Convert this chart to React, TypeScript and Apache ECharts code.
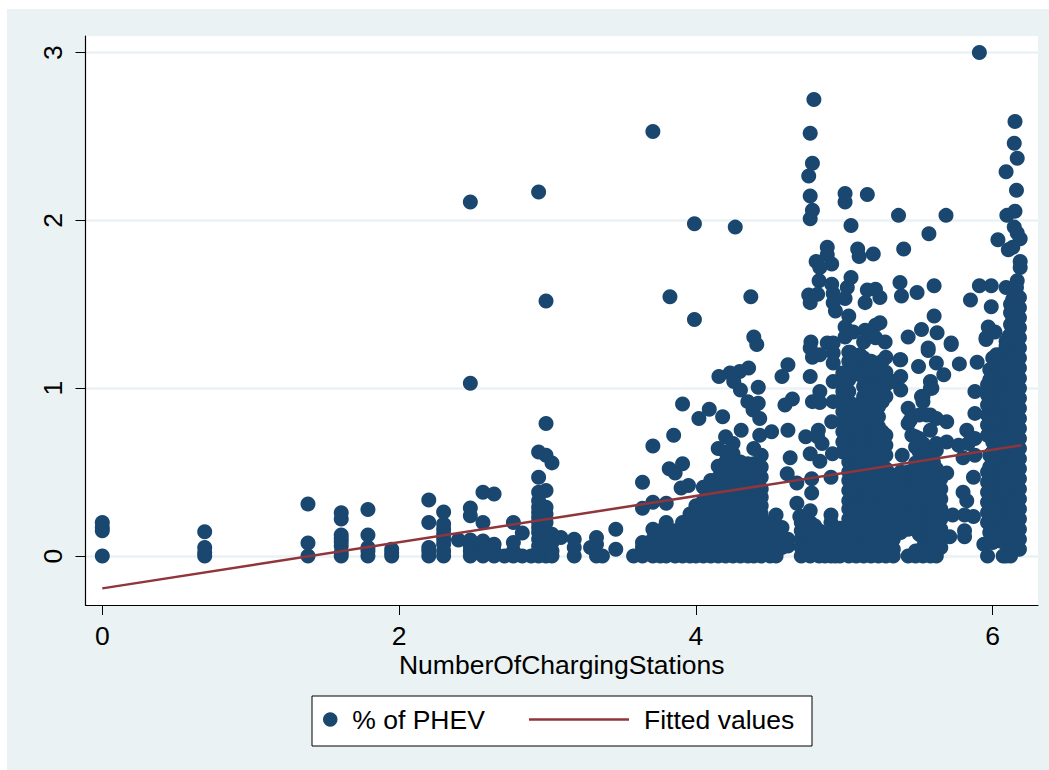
import React, { useEffect, useRef } from "react";
import * as echarts from "echarts";

const xTicks = [0, 2, 4, 6];
const yTicks = [0, 1, 2, 3];
const xName = "NumberOfChargingStations";
const scatterName = "% of PHEV";
const lineName = "Fitted values";

// fitted line end points (x, y)
const fittedValues = [[0, -0.193], [6.195, 0.66]];

// low-count columns: [x, ys]
const leftColumns: [number, number[]][] = [
  [0, [0, 0.15, 0.17, 0.2]],
  [0.69, [0, 0.02, 0.05, 0.145]],
  [1.386, [0, 0.077, 0.31]],
  [1.61, [0, 0.02, 0.06, 0.085, 0.105, 0.125, 0.22, 0.258]],
  [1.79, [0, 0.03, 0.05, 0.125, 0.277]],
  [1.95, [0, 0.02, 0.04]],
  [2.2, [0, 0.03, 0.05, 0.2, 0.334]],
  [2.3, [0, 0.03, 0.07, 0.1, 0.13, 0.16, 0.19, 0.262]],
  [2.4, [0.095]],
  [2.48, [0, 0.03, 0.06, 0.095, 0.24, 0.286, 1.03, 2.11]],
  [2.565, [0, 0.03, 0.06, 0.09, 0.2, 0.38]],
  [2.64, [0, 0.03, 0.07, 0.37]],
  [2.71, [0]],
  [2.77, [0, 0.03, 0.08, 0.2]],
  [2.83, [0, 0.137]],
  [2.89, [0]],
  [2.94, [0, 0.03, 0.06, 0.1, 0.14, 0.17, 0.2, 0.23, 0.26, 0.29, 0.33, 0.38, 0.47, 0.62, 2.17]],
  [2.97, [0.04, 0.09, 0.13, 0.18, 0.22, 0.27]],
  [2.99, [0, 0.05, 0.1, 0.15, 0.2, 0.25, 0.29, 0.39, 0.6, 0.79, 1.52]],
  [3.03, [0, 0.03, 0.08, 0.13, 0.555]],
  [3.09, [0.11]],
  [3.18, [0, 0.05, 0.1]],
  [3.29, [0.05]],
  [3.33, [0, 0.07, 0.11]],
  [3.37, [0]],
  [3.46, [0.04, 0.16]],
  [3.58, [0]],
  [3.64, [0, 0.05, 0.08, 0.285, 0.44]],
];

// dense lower-middle columns
const middleColumns: [number, number[]][] = [
  [3.71, [0, 0.05, 0.1, 0.16, 0.32, 0.655, 2.53]],
  [3.76, [0, 0.05, 0.1, 0.15]],
  [3.8, [0, 0.05, 0.1, 0.15, 0.2, 0.315]],
  [3.86, [0, 0.05, 0.1, 0.15]],
  [3.91, [0, 0.05, 0.1, 0.15, 0.2]],
  [3.96, [0, 0.05, 0.1, 0.15, 0.2, 0.25]],
  [4.0, [0, 0.05, 0.1, 0.15, 0.2, 0.25, 0.3]],
  [4.05, [0, 0.05, 0.1, 0.15, 0.2, 0.28, 0.33, 0.41]],
  [4.1, [0, 0.05, 0.1, 0.15, 0.2, 0.25, 0.3, 0.35, 0.4, 0.45]],
  [4.15, [0, 0.05, 0.1, 0.15, 0.2, 0.25, 0.3, 0.35, 0.4, 0.465, 0.535, 0.64]],
  [4.2, [0, 0.05, 0.1, 0.15, 0.2, 0.25, 0.3, 0.35, 0.4, 0.45, 0.5, 0.56, 0.62, 0.71]],
  [4.25, [0, 0.05, 0.1, 0.15, 0.2, 0.25, 0.3, 0.35, 0.4, 0.45, 0.5, 0.55, 0.61, 0.67]],
  [4.3, [0, 0.05, 0.1, 0.15, 0.2, 0.25, 0.3, 0.35, 0.4, 0.45, 0.5, 0.56]],
  [4.35, [0, 0.05, 0.1, 0.15, 0.2, 0.25, 0.3, 0.35, 0.4, 0.45, 0.5, 0.55]],
  [4.39, [0, 0.05, 0.1, 0.15, 0.2, 0.25, 0.3, 0.35, 0.4, 0.45, 0.5, 0.55, 0.64]],
  [4.44, [0, 0.05, 0.1, 0.15, 0.2, 0.25, 0.3, 0.35, 0.4, 0.47, 0.53, 0.6]],
  [4.5, [0, 0.05, 0.1, 0.15, 0.2]],
  [4.54, [0, 0.04, 0.09, 0.14, 0.245]],
  [4.58, [0.05, 0.1, 0.17]],
  [4.62, [0.06, 0.1]],
  [4.71, [0, 0.05, 0.1, 0.15, 0.2, 0.235]],
  [4.74, [0.03, 0.08, 0.13, 0.18]],
  [4.77, [0, 0.05, 0.1, 0.15, 0.2, 0.27]],
  [4.8, [0.03, 0.08, 0.13, 0.18]],
  [4.83, [0, 0.05, 0.1, 0.15]],
  [4.87, [0, 0.03, 0.08, 0.13]],
  [4.91, [0, 0.05, 0.1, 0.15, 0.2, 0.245]],
  [4.94, [0, 0.04, 0.09]],
  [4.97, [0, 0.05, 0.1, 0.165]],
];

// main block around x = 5.0 to 5.3
const blockColumns: [number, number[]][] = [
  [4.99, [0.62, 0.68, 0.74, 0.8, 0.86, 0.92, 0.98, 1.04, 1.09]],
  [5.03, [0, 0.04, 0.1, 0.16, 0.22, 0.28, 0.33, 0.39, 0.45, 0.5, 0.56, 0.62, 0.68, 0.74, 0.8, 0.86, 0.92, 0.98, 1.05, 1.11, 1.16, 1.215]],
  [5.055, [0.07, 0.13, 0.19, 0.25, 0.31, 0.37, 0.43, 0.49, 0.59, 0.65, 0.71, 0.77, 0.83, 1.1, 1.15]],
  [5.08, [0, 0.05, 0.11, 0.17, 0.23, 0.29, 0.35, 0.4, 0.46, 0.52, 0.6, 0.66, 0.72, 0.78, 0.84, 0.9, 1.12, 1.17]],
  [5.105, [0.08, 0.14, 0.2, 0.26, 0.32, 0.38, 0.44, 0.5, 0.56, 0.62, 0.68, 0.74, 0.8, 0.86, 1.08, 1.14, 1.2]],
  [5.13, [0, 0.05, 0.11, 0.17, 0.23, 0.29, 0.35, 0.41, 0.47, 0.53, 0.59, 0.65, 0.71, 0.77, 0.83, 0.89, 0.95, 1.01, 1.07, 1.13, 1.18]],
  [5.155, [0.08, 0.14, 0.2, 0.26, 0.32, 0.38, 0.44, 0.5, 0.56, 0.62, 0.68, 0.74, 0.8, 0.86, 0.92, 0.98, 1.04, 1.1, 1.16]],
  [5.18, [0, 0.04, 0.1, 0.16, 0.22, 0.28, 0.34, 0.4, 0.46, 0.52, 0.58, 0.64, 0.7, 0.76, 0.82, 0.88, 0.94, 1.0, 1.06, 1.12, 1.16]],
  [5.205, [0.07, 0.13, 0.19, 0.25, 0.31, 0.37, 0.43, 0.49, 0.55, 0.61, 0.67, 0.73, 0.79, 0.85, 0.91, 0.97, 1.03, 1.09, 1.15]],
  [5.23, [0, 0.05, 0.11, 0.17, 0.23, 0.29, 0.35, 0.41, 0.47, 0.53, 0.59, 0.65, 0.71, 0.77, 0.83, 0.89, 0.95, 1.01, 1.07, 1.13]],
  [5.255, [0.08, 0.14, 0.2, 0.26, 0.32, 0.38, 0.44, 0.5, 0.62, 0.68, 0.74, 0.92, 1.0, 1.1, 1.16]],
  [5.28, [0, 0.04, 0.1, 0.16, 0.22, 0.28, 0.34, 0.4, 0.46, 0.52, 0.6, 0.66, 0.72, 0.95, 1.02, 1.095, 1.185]],
  [5.305, [0.07, 0.13, 0.19, 0.25, 0.31, 0.37, 0.43, 0.49]],
  [5.33, [0, 0.04, 0.1, 0.16, 0.22, 0.28, 0.34, 0.4, 0.46, 1.04]],
  [5.38, [0.14, 0.2, 0.26, 0.32, 0.38, 0.44, 0.5, 0.99, 1.07, 1.17]],
  [5.405, [0.17, 0.23, 0.29, 0.35, 0.41, 0.47]],
  [5.43, [0, 0.16, 0.21, 0.27, 0.33, 0.39, 0.45, 0.5, 0.79, 0.88]],
  [5.455, [0.19, 0.25, 0.31, 0.37, 0.43, 0.49, 0.72]],
  [5.48, [0, 0.03, 0.16, 0.22, 0.28, 0.34, 0.4, 0.46, 0.52, 0.555, 0.65, 0.71]],
  [5.505, [0.13, 0.19, 0.25, 0.31, 0.37, 0.43, 0.49, 0.62, 0.7, 0.84]],
  [5.53, [0, 0.05, 0.11, 0.16, 0.22, 0.28, 0.34, 0.4, 0.46, 0.52, 0.6, 0.67, 0.92, 0.95]],
  [5.555, [0.08, 0.14, 0.2, 0.26, 0.32, 0.38, 0.44, 0.5, 0.56, 0.63, 0.84]],
  [5.58, [0, 0.05, 0.11, 0.17, 0.23, 0.29, 0.35, 0.41, 0.47, 0.53, 0.59, 0.63, 0.75, 0.84, 1.0, 1.04]],
  [5.6, [0.08, 0.14, 0.2, 0.26, 0.32, 0.38, 0.44, 0.5, 0.56]],
  [5.62, [0, 0.05, 0.1, 0.16, 0.22, 0.28, 0.34, 0.4, 0.46, 0.52, 0.63, 0.67, 0.82]],
  [5.65, [0.05, 0.1, 0.16, 0.22, 0.28, 0.34, 0.4, 0.46]],
  [5.69, [0.495, 0.68, 0.8]],
  [5.73, [0.245]],
  [5.71, [0.115]],
  [5.77, [0.66]],
  [5.81, [0.115, 0.15, 0.245]],
  [5.8, [0.38, 0.585]],
  [5.825, [0.33, 0.75]],
  [5.835, [0.67]],
  [5.87, [0.235, 0.47]],
  [5.88, [0.6, 0.7, 0.85, 0.98]],
];

// right-hand block
const rightColumns: [number, number[]][] = [
  [5.94, [0.07]],
  [5.965, [0, 0.2, 0.26, 0.32, 0.38, 0.44, 0.5, 0.72, 0.78, 0.84, 0.9, 0.96, 1.02]],
  [5.98, [0.14, 0.23, 0.29, 0.35, 0.41, 0.47, 0.53, 0.6, 0.75, 0.81, 0.87, 0.93, 0.99, 1.05, 1.11]],
  [6.0, [0.08, 0.14, 0.2, 0.26, 0.32, 0.38, 0.44, 0.5, 0.56, 0.62, 0.68, 0.76, 0.82, 0.88, 0.94, 1.0, 1.06, 1.12, 1.18]],
  [6.025, [0.11, 0.17, 0.23, 0.29, 0.35, 0.41, 0.47, 0.53, 0.59, 0.65, 0.71, 0.78, 0.84, 0.9, 0.96, 1.02, 1.08, 1.14, 1.2]],
  [6.05, [0.09, 0.15, 0.21, 0.27, 0.33, 0.39, 0.45, 0.51, 0.57, 0.63, 0.69, 0.75, 0.81, 0.87, 0.93, 0.99, 1.05, 1.11, 1.17, 1.2]],
  [6.07, [0, 0.12, 0.18, 0.24, 0.3, 0.36, 0.42, 0.48, 0.54, 0.6, 0.66, 0.72, 0.78, 0.84, 0.9, 0.96, 1.02, 1.08, 1.14, 1.2]],
  [6.09, [0, 0.07, 0.13, 0.19, 0.25, 0.31, 0.37, 0.43, 0.49, 0.55, 0.61, 0.67, 0.73, 0.79, 0.85, 0.91, 0.97, 1.03, 1.09, 1.15, 1.21, 1.25]],
  [6.12, [0, 0.06, 0.12, 0.18, 0.24, 0.3, 0.36, 0.42, 0.48, 0.54, 0.6, 0.66, 0.72, 0.78, 0.84, 0.9, 0.96, 1.02, 1.08, 1.14, 1.2, 1.26, 1.32, 1.38, 1.45]],
  [6.135, [0.09, 0.15, 0.21, 0.27, 0.33, 0.39, 0.45, 0.51, 0.57, 0.63, 0.69, 0.75, 0.81, 0.87, 0.93, 0.99, 1.05, 1.11, 1.17, 1.23, 1.29, 1.35, 1.41, 1.47, 1.53]],
  [6.15, [0.05, 0.11, 0.17, 0.23, 0.29, 0.35, 0.41, 0.47, 0.53, 0.59, 0.65, 0.71, 0.77, 0.83, 0.89, 0.95, 1.01, 1.07, 1.13, 1.19, 1.25, 1.31, 1.37, 1.43, 1.49, 1.55]],
  [6.18, [0.04, 0.1, 0.16, 0.22, 0.28, 0.34, 0.4, 0.46, 0.52, 0.58, 0.64, 0.7, 0.76, 0.82, 0.88, 0.94, 1.0, 1.06, 1.12, 1.18, 1.24, 1.3, 1.36, 1.42, 1.48, 1.54]],
];

// isolated points: [x, y]
const scatteredPoints: [number, number][] = [
  [3.91, 0.906], [3.85, 0.72], [3.82, 0.52], [3.86, 0.495], [3.91, 0.55], [3.9, 0.405], [3.95, 0.42],
  [4.02, 0.82], [4.09, 0.875], [4.18, 0.83], [4.155, 1.07], [4.23, 1.09], [4.295, 1.1], [4.355, 1.12],
  [4.255, 1.04], [4.3, 0.99], [4.41, 1.26], [4.39, 1.305], [4.42, 1.005], [4.35, 0.92], [4.42, 0.91],
  [4.385, 0.87], [4.43, 0.82], [4.305, 0.75], [4.43, 0.72], [4.51, 0.74], [4.62, 1.14], [4.58, 1.07],
  [4.77, 1.07], [4.6, 0.9], [4.65, 0.935], [4.62, 0.75], [4.74, 0.71], [4.635, 0.585], [4.615, 0.49],
  [4.68, 0.435], [4.77, 0.61], [4.835, 0.565], [4.85, 0.67], [4.92, 0.61], [4.78, 0.46], [4.78, 0.375],
  [4.91, 0.47], [4.68, 0.315], [4.7, 0.235], [4.82, 0.71],
  [4.795, 2.72], [4.77, 2.52], [4.785, 2.34], [4.76, 2.265], [4.77, 2.145], [4.785, 2.06], [4.77, 2.01],
  [5.91, 3.0], [6.15, 2.59], [6.145, 2.46], [6.165, 2.37], [6.09, 2.29], [6.16, 2.18], [6.095, 2.03], [6.15, 2.055],
  [3.99, 1.98], [4.265, 1.96], [5.005, 2.16], [5.005, 2.11], [5.155, 2.155], [5.365, 2.03], [5.685, 2.03],
  [5.045, 1.97], [5.57, 1.92], [4.885, 1.84], [6.035, 1.885], [6.145, 1.96], [6.165, 1.925], [6.185, 1.89],
  [6.105, 1.825], [6.135, 1.84], [5.4, 1.83], [5.09, 1.83], [5.1, 1.785], [5.195, 1.8], [4.885, 1.795],
  [4.81, 1.755], [4.915, 1.74], [4.835, 1.72], [6.185, 1.755], [6.185, 1.72], [4.83, 1.64], [4.915, 1.62],
  [5.045, 1.66], [5.02, 1.6], [5.375, 1.63], [5.605, 1.61], [5.91, 1.61], [5.99, 1.61], [6.09, 1.6], [6.165, 1.64],
  [5.49, 1.57], [5.385, 1.55], [5.85, 1.525], [5.99, 1.485], [4.76, 1.555], [4.77, 1.51], [4.82, 1.56],
  [4.925, 1.565], [4.925, 1.51], [4.94, 1.46], [5.005, 1.535], [5.155, 1.585], [5.21, 1.59], [5.24, 1.54], [5.14, 1.51],
  [3.825, 1.545], [4.37, 1.545], [3.99, 1.41], [5.03, 1.43], [5.005, 1.365], [5.005, 1.305], [5.06, 1.335],
  [5.14, 1.345], [5.13, 1.275], [5.21, 1.375], [5.24, 1.39], [5.21, 1.3], [5.275, 1.275], [5.43, 1.305],
  [5.52, 1.35], [5.605, 1.43], [5.625, 1.33], [5.72, 1.27], [5.565, 1.24], [5.97, 1.365], [6.015, 1.335], [5.955, 1.3],
  [4.775, 1.275], [4.885, 1.27], [4.925, 1.27], [4.77, 1.24], [5.04, 1.215], [4.785, 1.185], [4.835, 1.2],
  [4.925, 1.21], [4.925, 1.15], [4.925, 1.04], [4.99, 1.07], [4.835, 0.98], [4.785, 0.92], [4.835, 0.915],
  [4.925, 0.92], [4.915, 0.8], [4.825, 0.75], [5.375, 1.17], [5.5, 1.13], [5.62, 1.15], [5.565, 1.225], [5.72, 1.26],
  [5.775, 1.145], [5.67, 1.08], [5.895, 1.155], [5.955, 1.29], [5.59, 1.0], [5.52, 0.95], [5.445, 0.81], [5.39, 0.6],
  [6.11, 1.31], [6.13, 1.36], [6.09, 1.28], [6.16, 1.6], [6.12, 1.5],
];

const expand = (cols: [number, number[]][]) =>
  cols.flatMap(([x, ys]) => ys.map((y) => [x, y]));

const phevPoints = [
  ...expand(leftColumns),
  ...expand(middleColumns),
  ...expand(blockColumns),
  ...expand(rightColumns),
  ...scatteredPoints,
];

const FONT = "'Liberation Sans', Arial, sans-serif";
const NAVY = "#1a476f";
const MAROON = "#90353b";
const PALE = "#eaf2f3";

export default function App() {
  const ref = useRef<HTMLDivElement>(null);
  useEffect(() => {
    const chart = echarts.init(ref.current!, undefined, { renderer: "svg", width: 1049, height: 770 });
    chart.setOption({
      animation: false,
      backgroundColor: "#ffffff",
      textStyle: { fontFamily: FONT },
      graphic: [
        { type: "rect", z: -1, silent: true, shape: { x: 7, y: 9, width: 1042, height: 761 }, style: { fill: PALE } },
        { type: "rect", z: 1, silent: true, shape: { x: 312, y: 696, width: 500, height: 50 }, style: { fill: "#ffffff", stroke: "#000000", lineWidth: 1 } },
      ],
      grid: { left: 85.5, top: 36, width: 952.5, height: 569, show: true, backgroundColor: "#ffffff", borderWidth: 0 },
      xAxis: {
        type: "value",
        min: -0.1132,
        max: 6.305,
        name: xName,
        nameLocation: "middle",
        nameGap: 46,
        nameMoveOverlap: false,
        nameTextStyle: { color: "#000", fontSize: 26.5, fontFamily: FONT, align: "center" },
        axisLine: { onZero: false, lineStyle: { color: "#000", width: 1.2 } },
        axisTick: { length: 10, customValues: xTicks, lineStyle: { color: "#000", width: 1 } },
        axisLabel: { customValues: xTicks, color: "#000", fontSize: 26.5, fontFamily: FONT, margin: 17 },
        splitLine: { show: false },
      },
      yAxis: {
        type: "value",
        min: -0.292,
        max: 3.099,
        axisLine: { onZero: false, lineStyle: { color: "#000", width: 1.2 } },
        axisTick: { length: 10, customValues: yTicks, lineStyle: { color: "#000", width: 1 } },
        axisLabel: { customValues: yTicks, color: "#000", fontSize: 26.5, fontFamily: FONT, rotate: 90, margin: 19 },
        splitLine: { show: true, lineStyle: { color: PALE, width: 2.5 } },
      },
      legend: [
        {
          data: [scatterName],
          left: 323,
          top: 706,
          padding: 0,
          itemWidth: 34,
          itemHeight: 14.5,
          textStyle: { color: "#000", fontSize: 26.5, fontFamily: FONT },
        },
        {
          data: [{ name: lineName, icon: "rect" }],
          left: 529,
          top: 706,
          padding: 0,
          itemWidth: 100,
          itemHeight: 2.5,
          textStyle: { color: "#000", fontSize: 26.5, fontFamily: FONT, padding: [0, 0, 0, 10] },
        },
      ],
      series: [
        {
          type: "scatter",
          name: scatterName,
          data: phevPoints,
          symbol: "circle",
          symbolSize: 15,
          clip: false,
          itemStyle: { color: NAVY, opacity: 1 },
        },
        {
          type: "line",
          name: lineName,
          data: fittedValues,
          symbol: "none",
          showSymbol: false,
          lineStyle: { color: MAROON, width: 2.5 },
          itemStyle: { color: MAROON },
          z: 3,
        },
      ],
    });
    return () => chart.dispose();
  }, []);
  return <div ref={ref} style={{ position: "absolute", left: 0, top: 0, width: 1049, height: 770 }} />;
}
